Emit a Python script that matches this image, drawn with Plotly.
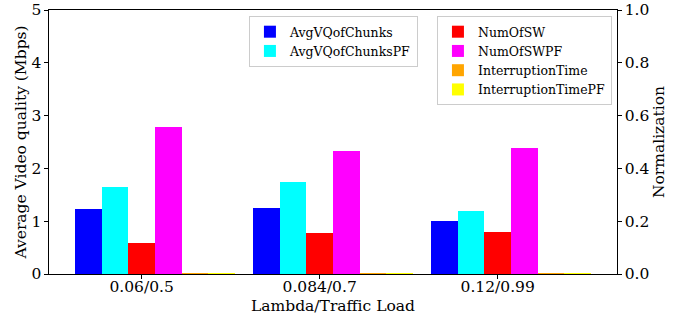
import plotly.graph_objects as go

categories = ["0.06/0.5", "0.084/0.7", "0.12/0.99"]
avg_vq_chunks = [1.23, 1.25, 1.00]
avg_vq_chunks_pf = [1.65, 1.74, 1.19]
num_of_sw = [0.117, 0.155, 0.159]
num_of_sw_pf = [0.557, 0.466, 0.477]
interruption_time = [0.002, 0.002, 0.002]
interruption_time_pf = [0.002, 0.002, 0.002]

FONT = "DejaVu Serif"
W = 0.15
xs = list(range(len(categories)))

series = [
    ("AvgVQofChunks", avg_vq_chunks, "#0000ff", "y", "legend", -2),
    ("AvgVQofChunksPF", avg_vq_chunks_pf, "#00ffff", "y", "legend", -1),
    ("NumOfSW", num_of_sw, "#ff0000", "y2", "legend2", 0),
    ("NumOfSWPF", num_of_sw_pf, "#ff00ff", "y2", "legend2", 1),
    ("InterruptionTime", interruption_time, "#ffa500", "y2", "legend2", 2),
    ("InterruptionTimePF", interruption_time_pf, "#ffff00", "y2", "legend2", 3),
]

fig = go.Figure()
for name, vals, color, yax, leg, k in series:
    fig.add_trace(go.Bar(
        x=[x + k * W for x in xs], y=vals, width=W, name=name,
        marker=dict(color=color, line=dict(width=0)),
        yaxis=yax, legend=leg,
    ))

TICKFONT = dict(family=FONT, size=15.5, color="black")
TITLEFONT = dict(family=FONT, size=15.5, color="black")
axis_common = dict(showline=True, linecolor="black", linewidth=1.2, ticks="outside",
                   ticklen=3.5, tickcolor="black", showgrid=False, zeroline=False,
                   automargin=False, tickfont=TICKFONT)

fig.update_layout(
    width=678, height=315,
    margin=dict(l=49, r=61, t=10, b=41),
    plot_bgcolor="white", paper_bgcolor="white",
    barmode="overlay",
    bargap=0,
    font=dict(family=FONT, size=13, color="black"),
    xaxis=dict(range=[-0.52, 2.67], tickvals=xs, ticktext=categories, mirror=True,
               ticklabelstandoff=-5,
               title=dict(text="Lambda/Traffic Load", font=TITLEFONT, standoff=4),
               **axis_common),
    yaxis=dict(range=[0, 5], tickvals=[0, 1, 2, 3, 4, 5], mirror=False,
               title=dict(text="Average Video quality (Mbps)", font=TITLEFONT, standoff=0),
               **axis_common),
    yaxis2=dict(range=[0, 1.0], overlaying="y", side="right", tickvals=[0, 0.2, 0.4, 0.6, 0.8, 1.0],
                ticktext=["0.0", "0.2", "0.4", "0.6", "0.8", "1.0"],
                title=dict(text="Normalization", font=TITLEFONT, standoff=4),
                **axis_common),
    legend=dict(x=0.352, y=0.977, xanchor="left", yanchor="top", bgcolor="white",
                bordercolor="#cccccc", borderwidth=1, font=dict(family=FONT, size=12.5),
                tracegroupgap=0, itemwidth=30),
    legend2=dict(x=0.683, y=0.977, xanchor="left", yanchor="top", bgcolor="white",
                 bordercolor="#cccccc", borderwidth=1, font=dict(family=FONT, size=12.5),
                 tracegroupgap=0, itemwidth=30),
)

fig.write_html("out.html", config={"displayModeBar": False},
               post_script="document.body.style.margin='0';")
